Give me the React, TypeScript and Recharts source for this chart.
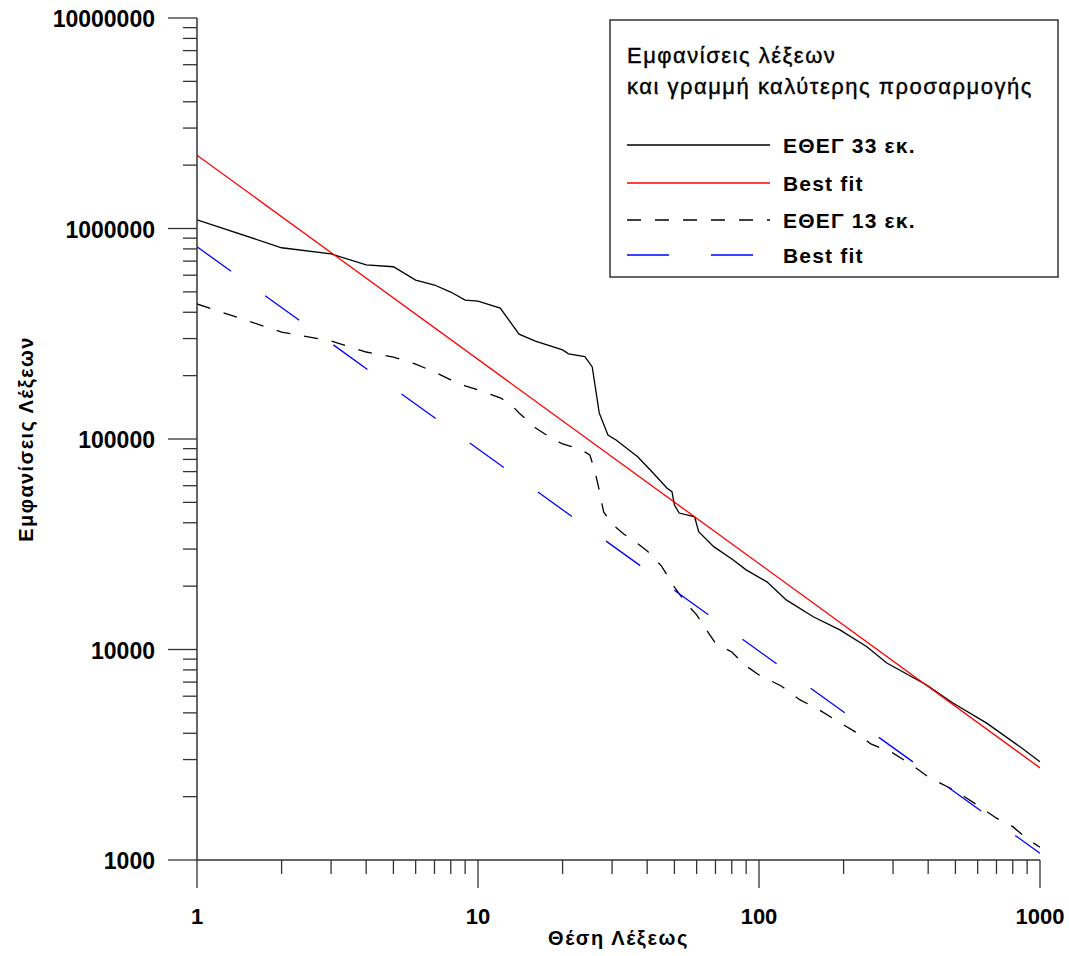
import React from "react";
import { LineChart, Line, XAxis, YAxis, Legend } from "recharts";

// rank (x) and occurrences (y)
const ranks33 = [1, 2, 3, 4, 5, 6, 7, 8, 9, 10, 12, 14, 16, 20, 21, 24, 25.5, 27, 29, 31, 37, 42, 47, 49, 50, 52, 59, 61, 69, 81, 90, 107, 125, 156, 194, 242, 285, 395, 490, 646, 849, 1000];
const counts33 = [1100000, 810000, 757000, 671000, 658000, 569000, 539000, 499000, 457000, 452000, 419000, 315000, 292000, 265000, 254000, 246000, 220000, 133000, 104500, 98900, 82400, 68900, 58500, 56200, 48600, 44500, 42700, 36300, 30800, 26600, 23900, 20900, 17200, 14300, 12400, 10300, 8630, 6780, 5570, 4470, 3450, 2930];

const ranks13 = [1, 2, 3, 4, 5, 6, 7, 8, 9, 10, 12, 13, 14, 16, 18, 20, 23, 25, 26, 27, 28, 30, 33, 36, 40, 45, 50, 55, 60, 65, 70, 80, 90, 100, 120, 140, 160, 190, 220, 250, 300, 350, 400, 500, 600, 700, 800, 900, 1000];
const counts13 = [438000, 322000, 292000, 259000, 245000, 227000, 208000, 191000, 179000, 171000, 157000, 147000, 133000, 113000, 102000, 94700, 89700, 84000, 71300, 57200, 45000, 39500, 35400, 32800, 29400, 24900, 19800, 16600, 14600, 12400, 10700, 9730, 8350, 7570, 6710, 5760, 5270, 4570, 4060, 3560, 3220, 2830, 2480, 2130, 1820, 1580, 1440, 1260, 1150];

// best-fit lines: end points at rank 1 and rank 1000
const fitRanks = [1, 1000];
const fit33 = [2230000, 2740];
const fit13 = [819000, 1076];

const xMajor = [1, 10, 100, 1000];
const xMinor = [2, 3, 4, 5, 6, 7, 8, 9, 20, 30, 40, 50, 60, 70, 80, 90, 200, 300, 400, 500, 600, 700, 800, 900];
const yMajor = [1000, 10000, 100000, 1000000, 10000000];
const yMinor = [
  2000, 3000, 4000, 5000, 6000, 7000, 8000, 9000,
  20000, 30000, 40000, 50000, 60000, 70000, 80000, 90000,
  200000, 300000, 400000, 500000, 600000, 700000, 800000, 900000,
  2000000, 3000000, 4000000, 5000000, 6000000, 7000000, 8000000, 9000000,
];

const legendTitle = ["Εμφανίσεις λέξεων", "και γραμμή καλύτερης προσαρμογής"];
const seriesNames = ["ΕΘΕΓ 33 εκ.", "Best fit", "ΕΘΕΓ 13 εκ.", "Best fit"];

const zip = (xs: number[], ys: number[]) => xs.map((r, i) => ({ r, v: ys[i] }));

const series = [
  { name: seriesNames[0], data: zip(ranks33, counts33), color: "#000000", dash: undefined },
  { name: seriesNames[1], data: zip(fitRanks, fit33), color: "#ff0000", dash: undefined },
  { name: seriesNames[2], data: zip(ranks13, counts13), color: "#000000", dash: "14 14" },
  { name: seriesNames[3], data: zip(fitRanks, fit13), color: "#0000ff", dash: "42 42" },
];

const font = "'Liberation Sans', Arial, sans-serif";
const axisColor = "#333";

function XTick(props: any) {
  const { x, y, payload } = props;
  const major = xMajor.includes(payload.value);
  return (
    <g>
      <line x1={x} x2={x} y1={y} y2={y + (major ? 28 : 14)} stroke={axisColor} strokeWidth={1.3} />
      {major && (
        <text x={x} y={y + 56} textAnchor="middle" dominantBaseline="central"
          fontFamily={font} fontWeight="bold" fontSize={22} fill="#000">
          {payload.value}
        </text>
      )}
    </g>
  );
}

function YTick(props: any) {
  const { x, y, payload } = props;
  const major = yMajor.includes(payload.value);
  return (
    <g>
      <line x1={x} x2={x - (major ? 29 : 14)} y1={y} y2={y} stroke={axisColor} strokeWidth={1.3} />
      {major && (
        <text x={x - 42} y={y + 1} textAnchor="end" dominantBaseline="central"
          fontFamily={font} fontWeight="bold" fontSize={23} fill="#000">
          {payload.value}
        </text>
      )}
    </g>
  );
}

function LegendBox() {
  const rows = [145, 183, 220, 255];
  return (
    <svg width={450} height={259} style={{ display: "block" }}>
      <rect x={1} y={1} width={448} height={257} fill="#fff" stroke={axisColor} strokeWidth={1.5} />
      {legendTitle.map((t, i) => (
        <text key={i} x={18} y={44 + i * 31} fontFamily={font} fontSize={22} fill="#000"
          stroke="#000" strokeWidth={0.4} letterSpacing={1.5}>
          {t}
        </text>
      ))}
      {series.map((s, i) => (
        <g key={i}>
          <line x1={18} x2={161} y1={rows[i] - 19} y2={rows[i] - 19} stroke={s.color}
            strokeWidth={1.3} strokeDasharray={s.dash} />
          <text x={174} y={rows[i] - 19} dominantBaseline="central" fontFamily={font}
            fontWeight="bold" fontSize={21} fill="#000" letterSpacing={1.2}>
            {s.name}
          </text>
        </g>
      ))}
    </svg>
  );
}

export default function App() {
  return (
    <div style={{ position: "absolute", left: 0, top: 0, width: 1069, height: 956, background: "#fff" }}>
      <LineChart width={1069} height={956} margin={{ top: 18, right: 29, bottom: 0, left: 0 }}>
        <XAxis
          type="number"
          dataKey="r"
          scale="log"
          domain={[1, 1000]}
          allowDataOverflow
          ticks={[...xMajor, ...xMinor]}
          interval={0}
          height={96}
          tickSize={0}
          tickMargin={0}
          tickLine={false}
          tick={<XTick />}
          axisLine={{ stroke: axisColor, strokeWidth: 1.5 }}
          label={(p: any) => {
            const vb = p.viewBox;
            return (
              <text x={vb.x + vb.width / 2} y={vb.y + 78} textAnchor="middle" dominantBaseline="central"
                fontFamily={font} fontWeight="bold" fontSize={20} fill="#000" letterSpacing={1.6}>
                Θέση Λέξεως
              </text>
            );
          }}
        />
        <YAxis
          type="number"
          dataKey="v"
          scale="log"
          domain={[1000, 10000000]}
          allowDataOverflow
          ticks={[...yMajor, ...yMinor]}
          interval={0}
          width={197}
          tickSize={0}
          tickMargin={0}
          tickLine={false}
          tick={<YTick />}
          axisLine={{ stroke: axisColor, strokeWidth: 1.5 }}
          label={(p: any) => {
            const vb = p.viewBox;
            const cx = vb.x + 26;
            const cy = vb.y + vb.height / 2;
            return (
              <text x={cx} y={cy} transform={`rotate(-90 ${cx} ${cy})`} textAnchor="middle"
                dominantBaseline="central" fontFamily={font} fontWeight="bold" fontSize={20}
                fill="#000" letterSpacing={1.4}>
                Εμφανίσεις Λέξεων
              </text>
            );
          }}
        />
        <Legend
          layout="horizontal"
          verticalAlign="middle"
          align="center"
          content={() => <LegendBox />}
          wrapperStyle={{ left: 609, top: 19, width: 450, height: 259 }}
        />
        {series.map((s, i) => (
          <Line
            key={i}
            data={s.data}
            dataKey="v"
            name={s.name}
            type="linear"
            stroke={s.color}
            strokeWidth={1.3}
            strokeDasharray={s.dash}
            dot={false}
            activeDot={false}
            legendType="none"
            isAnimationActive={false}
          />
        ))}
      </LineChart>
    </div>
  );
}
